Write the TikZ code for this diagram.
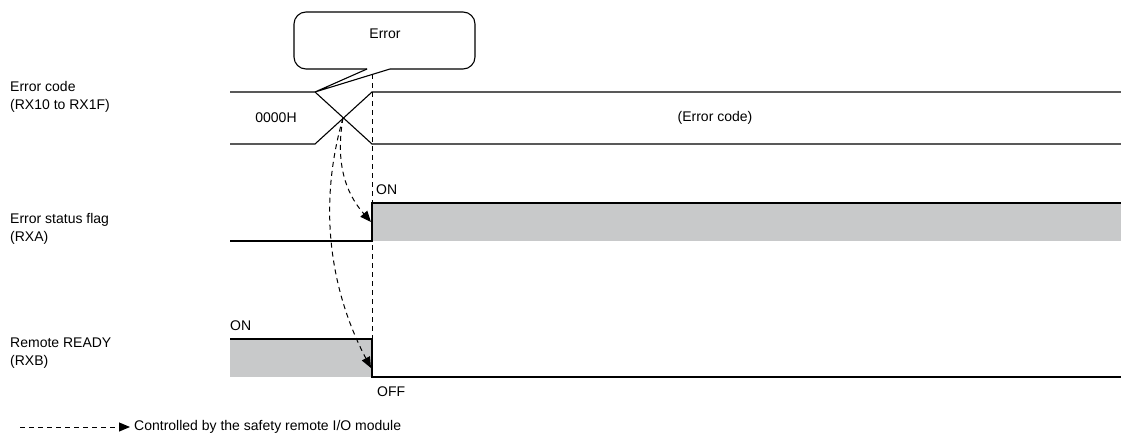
\documentclass[tikz,border=0pt]{standalone}
\usepackage{fontspec}
\setmainfont{Liberation Sans}
\usetikzlibrary{arrows.meta}
\definecolor{sig}{RGB}{200,201,202}
\tikzset{
  wave/.style={line width=1.1pt, black},
  dsh/.style={dashed, dash pattern=on 5pt off 4pt, line width=1pt},
  ctrl/.style={dsh, -{Triangle[length=11pt,width=9pt]}},
  lbl/.style={font=\fontsize{14}{17.5}\selectfont, inner sep=0pt, anchor=west, align=left},
  txt/.style={font=\fontsize{14}{17}\selectfont, inner sep=0pt}
}
\begin{document}
\begin{tikzpicture}[x=1pt,y=-1pt]
\useasboundingbox (0,0) rectangle (1121,436);
% labels
\node[lbl] (l1) at (10,97) {Error code\\(RX10 to RX1F)};
\node[lbl] (l2) at (10,229) {Error status flag\\(RXA)};
\node[lbl] (l3) at (10,353) {Remote READY\\(RXB)};
% error code bus
\coordinate (cx) at (343,118);
\draw[wave] (230,92) -- (315,92) -- (372,144) -- (1121,144);
\draw[wave] (230,144) -- (315,144) -- (372,92) -- (1121,92);
\node[txt] (v0) at (276,118) {0000H};
\node[txt] (v1) at (715,118) {(Error code)};
% callout
\draw[wave, rounded corners=12pt] (367,69) -- (294,69) -- (294,12) -- (475,12) -- (475,69) -- (390,69);
\draw[wave] (367,69) -- (315,92) -- (390,69);
\node[txt] (err) at (385,34) {Error};
% error status flag
\fill[sig] (372,203) rectangle (1121,241);
\draw[wave] (230,241) -- (372,241) -- (372,203) -- (1121,203);
\node[txt, anchor=west] (on1) at (376,190) {ON};
% remote ready
\fill[sig] (230,339) rectangle (372,377);
\draw[wave] (230,339) -- (372,339) -- (372,377) -- (1121,377);
\node[txt, anchor=west] (on2) at (230,326) {ON};
\node[txt, anchor=west] (off) at (377,392) {OFF};
% dashed vertical
\draw[dsh] (372,74) -- (372,360);
% control arrows
\coordinate (t1) at (371,222);
\coordinate (t2) at (371,368);
\draw[ctrl] (cx) .. controls (334,170) and (350,198) .. (t1);
\draw[ctrl] (cx) .. controls (315,215) and (335,300) .. (t2);
% legend
\coordinate (la) at (20,427);
\coordinate (lb) at (130,427);
\draw[ctrl] (la) -- (lb);
\node[txt, anchor=west] (leg) at (134,427) {Controlled by the safety remote I/O module};
\end{tikzpicture}
\end{document}
